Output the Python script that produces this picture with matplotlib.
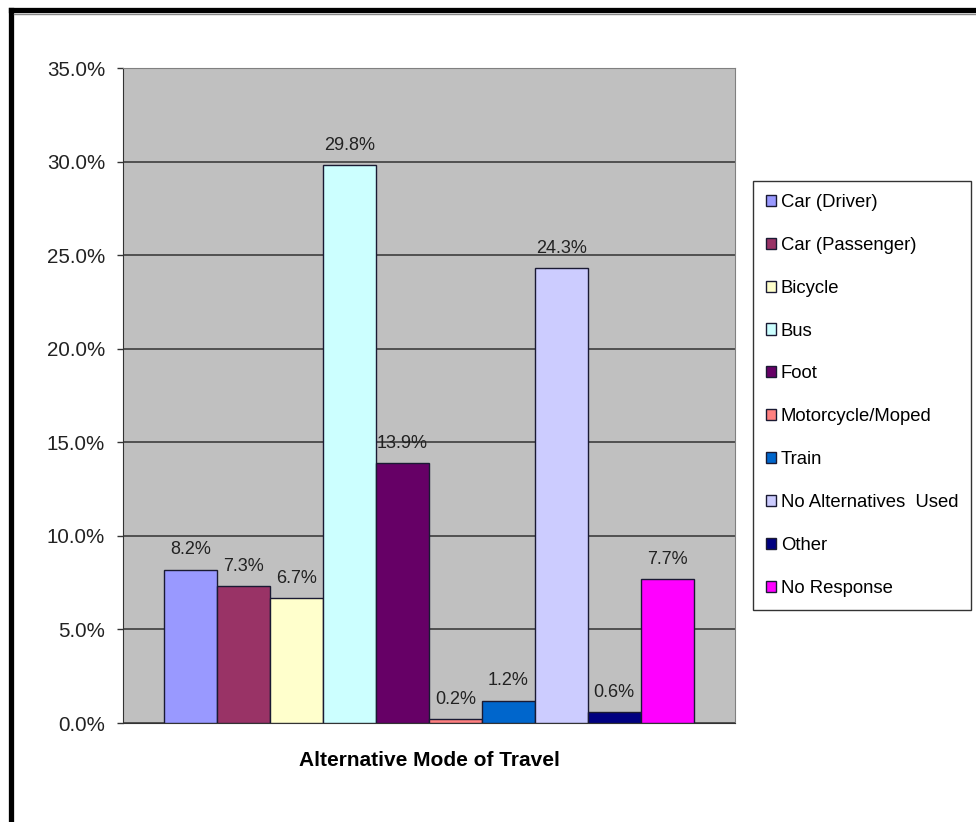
import matplotlib.pyplot as plt
from matplotlib.lines import Line2D
from matplotlib.ticker import FuncFormatter

plt.rcParams['font.family'] = ['Liberation Sans', 'DejaVu Sans']

# Data
modes = ["Car (Driver)", "Car (Passenger)", "Bicycle", "Bus", "Foot",
         "Motorcycle/Moped", "Train", "No Alternatives  Used", "Other", "No Response"]
shares = [8.2, 7.3, 6.7, 29.8, 13.9, 0.2, 1.2, 24.3, 0.6, 7.7]
colors = ["#9999FF", "#993366", "#FFFFCC", "#CCFFFF", "#660066",
          "#FF8080", "#0066CC", "#CCCCFF", "#000080", "#FF00FF"]
yticks = [0, 5, 10, 15, 20, 25, 30, 35]

fig = plt.figure(figsize=(9.76, 8.22), dpi=100)
ax = fig.add_axes([123 / 976, 1 - 723 / 822, 612 / 976, 655 / 822])
ax.set_facecolor("#C0C0C0")

n = len(shares)
gap = 0.78
xs = [gap + i + 0.5 for i in range(n)]
bars = ax.bar(xs, shares, width=1.0, color=colors, edgecolor="#1a1a33",
              linewidth=1.0, label=modes, zorder=3)

for x, v in zip(xs, shares):
    ax.annotate(f"{v:.1f}%", (x, v), xytext=(0, 8), textcoords="offset points",
                ha="center", va="bottom", fontsize=13, color="#222222", zorder=4)

ax.set_xlim(0, n + 2 * gap)
ax.set_ylim(0, 35)
ax.set_yticks(yticks)
ax.yaxis.set_major_formatter(FuncFormatter(lambda v, p: f"{v:.1f}%"))
ax.tick_params(axis="y", labelsize=14.8, length=4, width=1, color="#333333",
               labelcolor="#222222", pad=9)
ax.set_xticks([])
ax.grid(axis="y", color="#333333", linewidth=1.1, zorder=1)

for side in ["top", "right"]:
    ax.spines[side].set_color("#808080")
ax.spines["left"].set_color("#333333")
ax.spines["bottom"].set_color("#333333")

ax.set_xlabel("Alternative Mode of Travel", fontsize=15, fontweight="bold",
              labelpad=20)

leg = fig.legend(handles=bars, labels=modes, loc="upper left",
                 bbox_to_anchor=(753 / 976, 1 - 181 / 822), fontsize=13.3,
                 frameon=True, fancybox=False, edgecolor="black",
                 handlelength=0.55, handleheight=0.55, handletextpad=0.25,
                 labelspacing=1.4, borderpad=0.7, borderaxespad=0)
leg.get_frame().set_linewidth(1.0)

# outer frame (top and left edges visible)
fig.add_artist(Line2D([10.5 / 976, 1], [1 - 10.5 / 822] * 2, color="black",
                      linewidth=3.8, transform=fig.transFigure))
fig.add_artist(Line2D([10.5 / 976] * 2, [0, 1 - 10.5 / 822], color="black",
                      linewidth=3.8, transform=fig.transFigure))
fig.add_artist(Line2D([14 / 976, 1], [1 - 14.5 / 822] * 2, color="#888888",
                      linewidth=1.0, transform=fig.transFigure))

fig.savefig("out.png", dpi=100)
